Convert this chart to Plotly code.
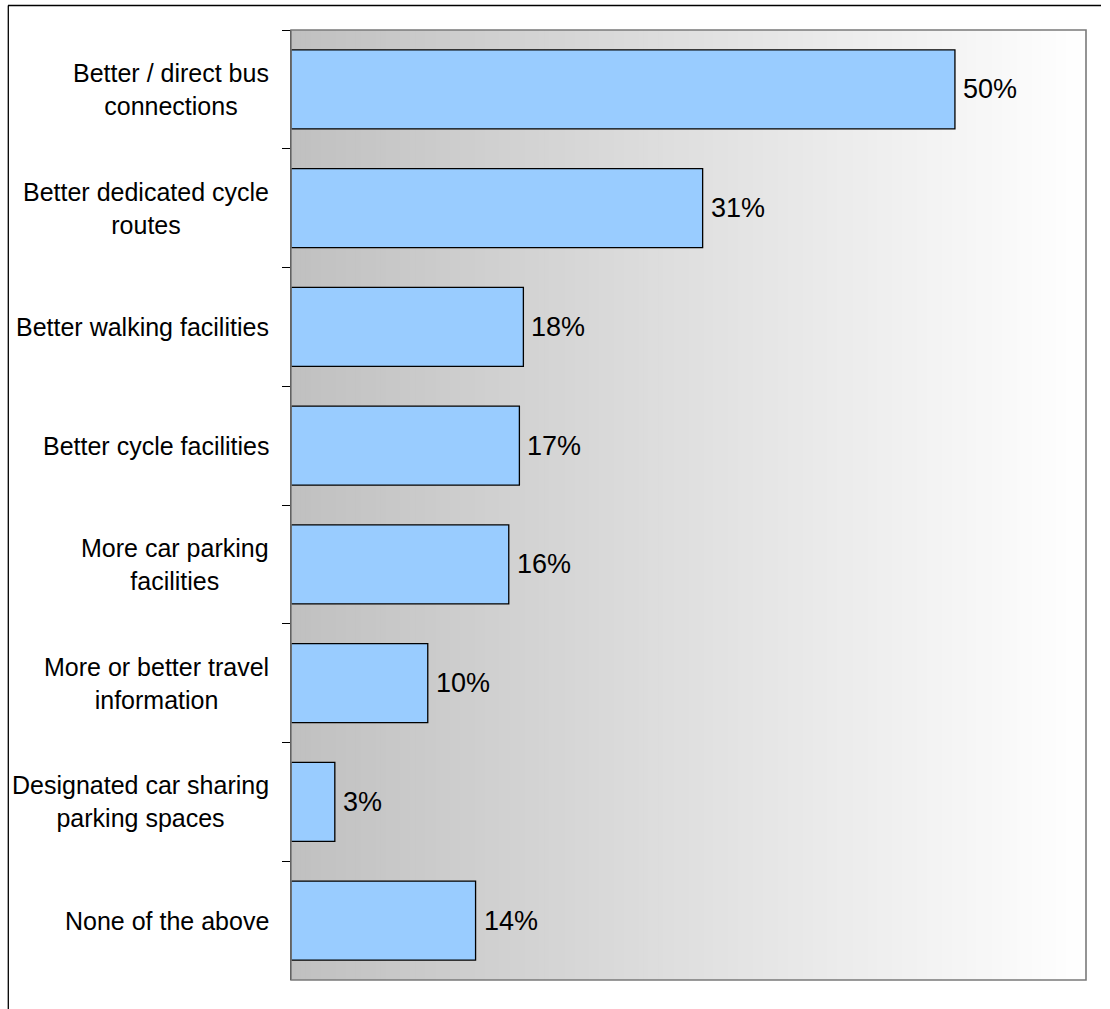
import plotly.graph_objects as go

categories = [
    "Better / direct bus<br>connections",
    "Better dedicated cycle<br>routes",
    "Better walking facilities",
    "Better cycle facilities",
    "More car parking<br>facilities",
    "More or better travel<br>information",
    "Designated car sharing<br>parking spaces",
    "None of the above",
]
values = [50.0, 31.0, 17.5, 17.2, 16.4, 10.3, 3.3, 13.9]
value_labels = ["50%", "31%", "18%", "17%", "16%", "10%", "3%", "14%"]

W, H = 1110, 1009
L, R, T, B = 291, 1086, 30, 980
XMAX = 59.87

fig = go.Figure()
fig.add_trace(go.Bar(
    x=values, y=categories, orientation="h",
    marker=dict(color="#99CCFF", line=dict(color="#000000", width=1.3)),
    hoverinfo="skip", showlegend=False,
))

shapes = []
# gradient background
N = 160
for i in range(N):
    c = int(round(192 + (255 - 192) * (i + 0.5) / N))
    shapes.append(dict(type="rect", xref="x domain", yref="y domain",
                       x0=i / N, x1=(i + 1) / N + 0.002, y0=0, y1=1,
                       fillcolor=f"rgb({c},{c},{c})", line=dict(width=0),
                       layer="below"))
# plot border
shapes.append(dict(type="rect", xref="x domain", yref="y domain",
                   x0=0, x1=1, y0=0, y1=1,
                   line=dict(color="#7a7a7a", width=1.6), layer="above"))

pw, ph = R - L, B - T
def px(xp):
    return (xp - L) / pw
def py(yp):
    return (B - yp) / ph

# outer frame
shapes.append(dict(type="line", xref="paper", yref="paper",
                   x0=px(8), x1=px(1101), y0=py(5.5), y1=py(5.5),
                   line=dict(color="#000000", width=1.3)))
shapes.append(dict(type="line", xref="paper", yref="paper",
                   x0=px(8.3), x1=px(8.3), y0=py(5.5), y1=py(1015),
                   line=dict(color="#000000", width=1.3)))

annotations = []
for cat, v, lab in zip(categories, values, value_labels):
    annotations.append(dict(x=0, y=cat, xref="x", yref="y", text=cat,
                            showarrow=False, xanchor="right", yanchor="middle",
                            align="center", xshift=-20,
                            font=dict(family="Liberation Sans, Arial", size=25, color="#000000")))
    annotations.append(dict(x=v, y=cat, xref="x", yref="y", text=lab,
                            showarrow=False, xanchor="left", yanchor="middle",
                            xshift=6,
                            font=dict(family="Liberation Sans, Arial", size=27, color="#000000")))

fig.update_layout(
    width=W, height=H,
    margin=dict(l=L, r=W - R, t=T, b=H - B, pad=0),
    paper_bgcolor="#FFFFFF", plot_bgcolor="rgba(0,0,0,0)",
    bargap=0.335,
    shapes=shapes, annotations=annotations,
    xaxis=dict(range=[0, XMAX], visible=False, showgrid=False, zeroline=False,
               fixedrange=True),
    yaxis=dict(autorange="reversed", showticklabels=False, showgrid=False,
               zeroline=False, showline=True, linecolor="#000000", linewidth=1.3,
               ticks="outside", tickson="boundaries", ticklen=8,
               tickcolor="#000000", tickwidth=1.3, fixedrange=True),
    font=dict(family="Liberation Sans, Arial"),
)

fig.write_html("out.html")
